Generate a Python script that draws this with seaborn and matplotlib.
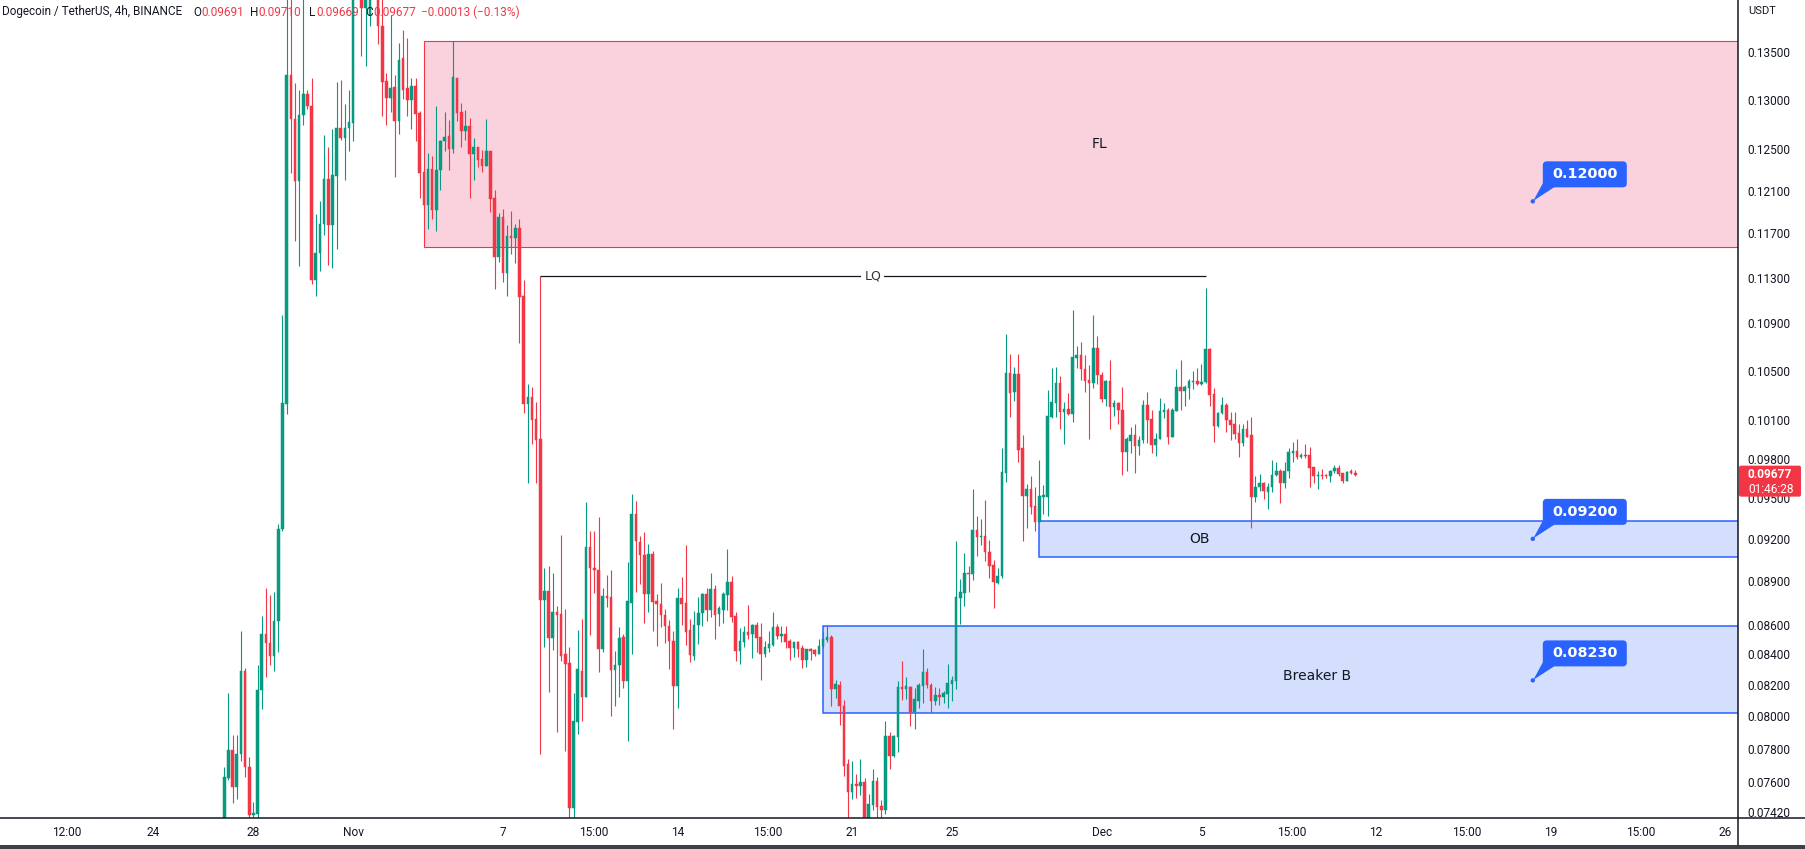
import numpy as np
import pandas as pd
import matplotlib
matplotlib.use("Agg")
import matplotlib.pyplot as plt
import matplotlib.dates as mdates
import seaborn as sns
from matplotlib.patches import Rectangle, FancyBboxPatch, Polygon
from matplotlib.lines import Line2D
from matplotlib.transforms import IdentityTransform
from matplotlib.ticker import NullLocator, NullFormatter

# ---------------- data (DOGE/USDT 4h) ----------------
start_time = "2022-10-26 20:00"

opens = [
    0.0735, 0.0762, 0.07792, 0.0757, 0.07768, 0.0829, 0.07689, 0.07405, 0.0741, 0.08167,
    0.08538, 0.08478, 0.08388, 0.08626, 0.0927, 0.10228, 0.13251, 0.12807, 0.12191, 0.12848,
    0.13058, 0.12937, 0.11276, 0.11521, 0.11786, 0.12216, 0.11777, 0.12246, 0.12717, 0.12614,
    0.12717, 0.12765, 0.145, 0.15, 0.13976, 0.13892, 0.143, 0.147, 0.13778, 0.13195,
    0.13016, 0.1313, 0.12786, 0.1343, 0.13125, 0.12994, 0.1314, 0.12869, 0.12281, 0.1197,
    0.12307, 0.11917, 0.12296, 0.12587, 0.12635, 0.12505, 0.13223, 0.12873, 0.12679, 0.12735,
    0.12456, 0.12529, 0.12404, 0.12343, 0.12485, 0.12036, 0.1149, 0.11851, 0.11338, 0.11673,
    0.11662, 0.11752, 0.11135, 0.10232, 0.10288, 0.10113, 0.0995, 0.0877, 0.0883, 0.0851,
    0.08685, 0.08671, 0.084, 0.08344, 0.07444, 0.07966, 0.08292, 0.08125, 0.09141, 0.08988,
    0.0898, 0.08437, 0.08796, 0.08787, 0.08297, 0.08331, 0.08515, 0.08223, 0.08745, 0.09383,
    0.09177, 0.09086, 0.0881, 0.09094, 0.08759, 0.08737, 0.08662, 0.08588, 0.08492, 0.08196,
    0.0878, 0.08746, 0.08563, 0.0839, 0.086, 0.08676, 0.08808, 0.08698, 0.08844, 0.08671,
    0.087, 0.08801, 0.08894, 0.08658, 0.08422, 0.08482, 0.0855, 0.08536, 0.086, 0.08515,
    0.08404, 0.08444, 0.08462, 0.08583, 0.08525, 0.08536, 0.08489, 0.08444, 0.0848, 0.08442,
    0.0836, 0.08435, 0.08428, 0.08404, 0.08455, 0.08498, 0.08516, 0.08176, 0.082, 0.08067,
    0.07706, 0.0754, 0.07586, 0.07576, 0.07596, 0.073, 0.07462, 0.07603, 0.07454, 0.07433,
    0.07878, 0.07756, 0.07874, 0.08186, 0.08176, 0.08187, 0.08027, 0.08099, 0.08193, 0.08285,
    0.08203, 0.08097, 0.08133, 0.08122, 0.08144, 0.08205, 0.08228, 0.08781, 0.08818, 0.08957,
    0.08949, 0.09265, 0.09216, 0.09224, 0.09107, 0.09013, 0.08887, 0.08934, 0.09693, 0.10484,
    0.10331, 0.10475, 0.09883, 0.09517, 0.09567, 0.09439, 0.09326, 0.09506, 0.09506, 0.10129,
    0.1024, 0.10403, 0.1017, 0.1019, 0.10151, 0.1061, 0.10634, 0.10518, 0.10427, 0.10398,
    0.10692, 0.10469, 0.10274, 0.10418, 0.10203, 0.1024, 0.10184, 0.09852, 0.0994, 0.09985,
    0.09894, 0.09945, 0.10222, 0.10112, 0.09906, 0.09953, 0.1017, 0.10183, 0.09971, 0.10177,
    0.10366, 0.10333, 0.10361, 0.10407, 0.10421, 0.10396, 0.10407, 0.10683, 0.10311, 0.10056,
    0.10157, 0.10222, 0.10104, 0.10072, 0.10003, 0.09924, 0.10032, 0.09985, 0.0951, 0.09582,
    0.09612, 0.09548, 0.09582, 0.09676, 0.09706, 0.09617, 0.09701, 0.09845, 0.09858, 0.09815,
    0.09828, 0.09828, 0.09736, 0.09663, 0.09676, 0.09676, 0.09663, 0.09701, 0.09727, 0.09689,
    0.09632, 0.09701, 0.09691,
]
highs = [
    0.07689, 0.0815, 0.07881, 0.07881, 0.08556, 0.08313, 0.07751, 0.07476, 0.08331, 0.08661,
    0.08851, 0.08804, 0.08822, 0.09308, 0.10969, 0.143, 0.1425, 0.13168, 0.13098, 0.142,
    0.131, 0.1322, 0.11883, 0.12005, 0.1264, 0.12524, 0.12701, 0.1318, 0.13207, 0.12953,
    0.13098, 0.148, 0.157, 0.153, 0.145, 0.146, 0.15, 0.148, 0.142, 0.13278,
    0.13892, 0.13251, 0.13597, 0.13731, 0.13647, 0.13222, 0.13222, 0.1288, 0.1232, 0.12468,
    0.12432, 0.12937, 0.12597, 0.12875, 0.12789, 0.13616, 0.13223, 0.12963, 0.12896, 0.12813,
    0.12612, 0.12529, 0.12495, 0.12803, 0.12485, 0.12107, 0.11888, 0.11926, 0.11779, 0.11911,
    0.11789, 0.1183, 0.11281, 0.10392, 0.10372, 0.10245, 0.11313, 0.08988, 0.09008, 0.08957,
    0.08723, 0.0923, 0.08709, 0.08448, 0.08151, 0.08566, 0.08635, 0.09469, 0.0926, 0.0926,
    0.09361, 0.08851, 0.0894, 0.0898, 0.08421, 0.08584, 0.08538, 0.09031, 0.0953, 0.0948,
    0.09221, 0.09251, 0.09162, 0.09112, 0.08807, 0.08885, 0.08709, 0.0863, 0.08553, 0.08853,
    0.08928, 0.09155, 0.08638, 0.08692, 0.08787, 0.08815, 0.08853, 0.08957, 0.08875, 0.08727,
    0.08822, 0.09126, 0.08936, 0.08685, 0.08577, 0.08592, 0.08732, 0.08602, 0.08615, 0.08611,
    0.08487, 0.08556, 0.08685, 0.08602, 0.08589, 0.08591, 0.085, 0.08484, 0.08489, 0.08462,
    0.08437, 0.08444, 0.08437, 0.08502, 0.08552, 0.08589, 0.08532, 0.08233, 0.08226, 0.08103,
    0.07736, 0.07724, 0.07646, 0.07736, 0.07619, 0.07525, 0.07676, 0.07627, 0.07489, 0.07972,
    0.07903, 0.07884, 0.08226, 0.08356, 0.08252, 0.08193, 0.08182, 0.08216, 0.08438, 0.08312,
    0.08216, 0.08187, 0.0818, 0.08164, 0.08338, 0.08258, 0.09185, 0.08912, 0.09097, 0.09006,
    0.09567, 0.09367, 0.09347, 0.09485, 0.09194, 0.09048, 0.08991, 0.09885, 0.10811, 0.10642,
    0.10533, 0.10642, 0.09985, 0.09608, 0.09669, 0.09584, 0.09789, 0.09599, 0.10345, 0.10527,
    0.10533, 0.10461, 0.10245, 0.10319, 0.11019, 0.1071, 0.10743, 0.10636, 0.1055, 0.10977,
    0.10797, 0.10489, 0.10427, 0.1059, 0.10262, 0.10245, 0.10369, 0.09968, 0.10049, 0.10071,
    0.09976, 0.10262, 0.10328, 0.10183, 0.09998, 0.1028, 0.10241, 0.10196, 0.10196, 0.10515,
    0.10592, 0.10385, 0.10435, 0.10503, 0.10525, 0.10557, 0.11212, 0.1069, 0.10358, 0.1017,
    0.10289, 0.10236, 0.1017, 0.1017, 0.10072, 0.10069, 0.10104, 0.1013, 0.09663, 0.09683,
    0.0962, 0.09612, 0.0979, 0.0977, 0.09719, 0.0977, 0.09879, 0.09925, 0.09951, 0.09841,
    0.0991, 0.09889, 0.09739, 0.09701, 0.09721, 0.09681, 0.09713, 0.09752, 0.09752, 0.09693,
    0.09701, 0.09719, 0.0971,
]
lows = [
    0.0728, 0.0761, 0.0747, 0.07494, 0.07721, 0.07626, 0.0738, 0.0736, 0.0737, 0.08044,
    0.08252, 0.08331, 0.0829, 0.08415, 0.0926, 0.10154, 0.12266, 0.11627, 0.11401, 0.12743,
    0.129, 0.11243, 0.1114, 0.11359, 0.11689, 0.11414, 0.1139, 0.11559, 0.1259, 0.12206,
    0.12482, 0.12587, 0.143, 0.13452, 0.13349, 0.13778, 0.1415, 0.1358, 0.12838, 0.12743,
    0.12875, 0.12231, 0.12656, 0.13006, 0.12838, 0.12701, 0.12587, 0.1203, 0.1194, 0.11738,
    0.11833, 0.11723, 0.12105, 0.12482, 0.12302, 0.12463, 0.12779, 0.12529, 0.12595, 0.12028,
    0.12205, 0.12333, 0.12276, 0.1234, 0.119, 0.11201, 0.11436, 0.11266, 0.11139, 0.11512,
    0.11429, 0.10737, 0.10161, 0.09617, 0.0991, 0.09617, 0.07768, 0.08448, 0.08156, 0.08429,
    0.07903, 0.08357, 0.07785, 0.0736, 0.0736, 0.0789, 0.07971, 0.08125, 0.08531, 0.08816,
    0.08285, 0.08416, 0.08717, 0.08004, 0.08068, 0.08125, 0.08178, 0.07849, 0.08402, 0.08821,
    0.08879, 0.08613, 0.08685, 0.08553, 0.08456, 0.0858, 0.08478, 0.08304, 0.0792, 0.08055,
    0.086, 0.08462, 0.08352, 0.08363, 0.08471, 0.08592, 0.08626, 0.08653, 0.08505, 0.08592,
    0.08612, 0.08698, 0.08619, 0.08359, 0.0834, 0.08448, 0.08502, 0.08378, 0.08415, 0.08235,
    0.08384, 0.08417, 0.08457, 0.08502, 0.08484, 0.08444, 0.08365, 0.08384, 0.08384, 0.08308,
    0.08314, 0.08365, 0.08391, 0.084, 0.08444, 0.08484, 0.08067, 0.08118, 0.07947, 0.07635,
    0.0736, 0.07499, 0.07503, 0.07519, 0.0725, 0.072, 0.07431, 0.0735, 0.0736, 0.0741,
    0.07674, 0.0775, 0.0778, 0.08103, 0.08111, 0.0794, 0.07918, 0.08055, 0.08086, 0.08182,
    0.0802, 0.0807, 0.08073, 0.08086, 0.08055, 0.08099, 0.08177, 0.08606, 0.08729, 0.08825,
    0.08904, 0.0908, 0.09153, 0.09043, 0.08924, 0.08715, 0.0888, 0.08924, 0.09624, 0.10123,
    0.10253, 0.0977, 0.09185, 0.0928, 0.09383, 0.0926, 0.0932, 0.09383, 0.0937, 0.10116,
    0.10123, 0.10028, 0.09917, 0.10142, 0.10088, 0.10527, 0.10427, 0.10331, 0.09949, 0.10361,
    0.1039, 0.10245, 0.10218, 0.10028, 0.10134, 0.10073, 0.09677, 0.09701, 0.09845, 0.09693,
    0.09831, 0.09919, 0.09919, 0.09845, 0.09823, 0.0995, 0.10117, 0.09913, 0.0997, 0.10177,
    0.10183, 0.10215, 0.1027, 0.10353, 0.10388, 0.10388, 0.10402, 0.10215, 0.09932, 0.10043,
    0.1015, 0.1001, 0.09945, 0.09951, 0.09815, 0.09898, 0.09966, 0.09278, 0.09473, 0.09556,
    0.09492, 0.09419, 0.09548, 0.0967, 0.09465, 0.09575, 0.0965, 0.0977, 0.09795, 0.09803,
    0.09803, 0.0958, 0.09612, 0.09572, 0.09642, 0.0965, 0.0962, 0.09689, 0.09663, 0.09612,
    0.09632, 0.09683, 0.09669,
]
closes = [
    0.07626, 0.07792, 0.0757, 0.07768, 0.0829, 0.07689, 0.074, 0.07417, 0.08167, 0.08538,
    0.08478, 0.08388, 0.08626, 0.0927, 0.10237, 0.13251, 0.12807, 0.12191, 0.12848, 0.13058,
    0.12932, 0.11276, 0.11521, 0.11786, 0.12216, 0.11777, 0.12256, 0.12717, 0.12614, 0.12717,
    0.12775, 0.145, 0.15, 0.13976, 0.142, 0.143, 0.147, 0.13778, 0.13185, 0.13016,
    0.13125, 0.12786, 0.13414, 0.13103, 0.12994, 0.1314, 0.12859, 0.12271, 0.1197, 0.12307,
    0.11917, 0.12296, 0.12587, 0.12627, 0.12505, 0.13233, 0.12863, 0.12679, 0.12735, 0.12456,
    0.12529, 0.12398, 0.12343, 0.12485, 0.12022, 0.1149, 0.11851, 0.11338, 0.11673, 0.11662,
    0.11752, 0.11128, 0.10232, 0.10288, 0.10104, 0.09947, 0.0877, 0.0883, 0.0851, 0.08685,
    0.08668, 0.08389, 0.08336, 0.07444, 0.07971, 0.08302, 0.08125, 0.09141, 0.08988, 0.0898,
    0.08437, 0.08796, 0.08784, 0.08297, 0.08331, 0.08507, 0.08223, 0.08759, 0.09383, 0.09183,
    0.09086, 0.0881, 0.09094, 0.08753, 0.08737, 0.08662, 0.08588, 0.08492, 0.08196, 0.0878,
    0.08739, 0.0855, 0.08396, 0.086, 0.08676, 0.08808, 0.08698, 0.08844, 0.08665, 0.08712,
    0.08808, 0.08894, 0.08653, 0.08422, 0.08489, 0.08548, 0.08532, 0.086, 0.08511, 0.08404,
    0.08448, 0.08469, 0.08583, 0.08525, 0.08536, 0.08484, 0.08444, 0.0848, 0.08437, 0.0836,
    0.08435, 0.08423, 0.08404, 0.08455, 0.08502, 0.08516, 0.08176, 0.08207, 0.08067, 0.07695,
    0.0754, 0.07586, 0.07576, 0.07596, 0.073, 0.07466, 0.07603, 0.0745, 0.07433, 0.07878,
    0.07756, 0.0788, 0.08186, 0.08176, 0.08193, 0.08027, 0.08108, 0.08198, 0.08285, 0.082,
    0.08097, 0.08133, 0.08122, 0.08148, 0.08212, 0.08233, 0.08789, 0.08825, 0.08957, 0.08949,
    0.09265, 0.09216, 0.09224, 0.09102, 0.09008, 0.08892, 0.08934, 0.09698, 0.10484, 0.10322,
    0.10475, 0.09868, 0.09517, 0.09567, 0.09434, 0.09326, 0.09515, 0.09522, 0.10134, 0.10245,
    0.10403, 0.1017, 0.1019, 0.10151, 0.10616, 0.10634, 0.10513, 0.10418, 0.10398, 0.10692,
    0.10463, 0.10274, 0.10418, 0.10203, 0.1024, 0.10179, 0.09852, 0.09951, 0.09985, 0.09894,
    0.09943, 0.10222, 0.10104, 0.09906, 0.09953, 0.10175, 0.10183, 0.09971, 0.10183, 0.10366,
    0.10333, 0.10366, 0.10415, 0.10421, 0.10396, 0.10413, 0.10683, 0.10303, 0.10056, 0.10162,
    0.10222, 0.10099, 0.10064, 0.09993, 0.09924, 0.10032, 0.09971, 0.0951, 0.09587, 0.09612,
    0.09556, 0.09582, 0.09676, 0.09706, 0.09617, 0.09706, 0.09853, 0.09858, 0.09815, 0.09828,
    0.0982, 0.09731, 0.09663, 0.09676, 0.09663, 0.09663, 0.09706, 0.09727, 0.09683, 0.09632,
    0.09696, 0.09693, 0.09677,
]

y_ticks = [0.135, 0.130, 0.125, 0.121, 0.117, 0.113, 0.109, 0.105, 0.101, 0.098,
           0.095, 0.092, 0.089, 0.086, 0.084, 0.082, 0.080, 0.078, 0.076, 0.0742]
x_tick_times = ["2022-10-20 12:00", "2022-10-24 00:00", "2022-10-28 00:00", "2022-11-01 00:00",
                "2022-11-07 00:00", "2022-11-10 15:00", "2022-11-14 00:00", "2022-11-17 15:00",
                "2022-11-21 00:00", "2022-11-25 00:00", "2022-12-01 00:00", "2022-12-05 00:00",
                "2022-12-08 15:00", "2022-12-12 00:00", "2022-12-15 15:00", "2022-12-19 00:00",
                "2022-12-22 15:00", "2022-12-26 00:00"]
x_tick_labels = ["12:00", "24", "28", "Nov", "7", "15:00", "14", "15:00", "21", "25",
                 "Dec", "5", "15:00", "12", "15:00", "19", "15:00", "26"]

# zones: (label, first candle index, bottom price, top price)
zone_labels = ["FL", "OB", "Breaker B"]
zone_start = [48, 196, 144]
zone_bottom = [0.1158, 0.09067, 0.0802]
zone_top = [0.13616, 0.09329, 0.08588]
lq_price = 0.11313
lq_start, lq_end = 76, 236
callout_prices = [0.12000, 0.09200, 0.08230]
callout_labels = ["0.12000", "0.09200", "0.08230"]

assert len(opens) == len(highs) == len(lows) == len(closes)

# ---------------- style ----------------
sns.set_style("white")
plt.rcParams['font.family'] = ['Roboto', 'DejaVu Sans']
GREEN = "#089981"
RED = "#f23645"
BLUE = "#2962ff"
TXT = "#131722"

W, H = 1806, 849
fig = plt.figure(figsize=(W / 100, H / 100), dpi=100)
fig.patch.set_facecolor("white")
ax = fig.add_axes([0, 31 / H, 1738 / W, 818 / H])
ax.set_facecolor("white")

df = pd.DataFrame({"time": pd.date_range(start_time, periods=len(opens), freq="4h"),
                   "open": opens, "high": highs, "low": lows, "close": closes})
df["x"] = mdates.date2num(df["time"].values)
df["up"] = df["close"] >= df["open"]
colors = np.where(df["up"], GREEN, RED)
step = 1.0 / 6.0
t0 = df["x"].iloc[0]

ax.set_yscale("log")

# zones
for lab, ks, yb, yt in zip(zone_labels, zone_start, zone_bottom, zone_top):
    if lab == "FL":
        fc, ec, lw = "#fad2de", RED, 0.8
    else:
        fc, ec, lw = "#d4dffd", BLUE, 1.1
    ax.add_patch(Rectangle((t0 + ks * step, yb), 400 * step, yt - yb,
                           facecolor=fc, edgecolor=ec, linewidth=lw, zorder=1))

# candles
ax.vlines(df["x"], df["low"], df["high"], colors=colors, linewidth=0.8, zorder=3)
body_lo = np.minimum(df["open"], df["close"])
body_h = np.abs(df["close"] - df["open"])
ax.bar(df["x"], body_h, bottom=body_lo, width=0.62 * step, color=colors,
       edgecolor=colors, linewidth=0.35, zorder=4)

# zone labels
label_k = {"FL": 210.6, "OB": 234.6, "Breaker B": 262.7}
label_p = {"FL": 0.12557, "OB": 0.0920, "Breaker B": 0.0826}
for lab in zone_labels:
    ax.text(t0 + label_k[lab] * step, label_p[lab], lab, ha="center", va="center",
            fontsize=10, color=TXT, family=["DejaVu Sans"], zorder=5)

# LQ line
ax.hlines(lq_price, t0 + lq_start * step, t0 + lq_end * step, color=TXT,
          linewidth=0.9, zorder=5)
ax.text(t0 + (lq_start + lq_end) / 2 * step, lq_price, "LQ", ha="center", va="center",
        fontsize=9, color="#333333", family=["DejaVu Sans"], zorder=6,
        bbox=dict(boxstyle="square,pad=0.25", fc="white", ec="none"))

# limits
ax.set_xlim(t0 - 53.94 * step, t0 + 364.05 * step)
ax.set_ylim(0.07385, 0.14061)

# callout dots (seaborn)
x_dot = t0 + 314.7 * step
sns.scatterplot(x=[x_dot] * len(callout_prices), y=callout_prices, ax=ax,
                color=BLUE, s=10, edgecolor="none", zorder=7, legend=False)
ax.set_xlim(t0 - 53.94 * step, t0 + 364.05 * step)
ax.set_ylim(0.07385, 0.14061)
ax.set_xlabel("")
ax.set_ylabel("")

# axes ticks
ax.yaxis.tick_right()
ax.set_yticks(y_ticks)
ax.set_yticklabels([f"{v:.5f}" for v in y_ticks])
ax.yaxis.set_minor_locator(NullLocator())
ax.yaxis.set_minor_formatter(NullFormatter())
ax.tick_params(axis="y", length=0, pad=6.5, labelsize=8.6, labelcolor=TXT)
ax.set_xticks(mdates.date2num(pd.to_datetime(x_tick_times, format="%Y-%m-%d %H:%M").values))
ax.set_xticklabels(x_tick_labels)
ax.tick_params(axis="x", length=0, pad=5.5, labelsize=8.6, labelcolor=TXT)
for s in ax.spines.values():
    s.set_visible(False)
ax.grid(False)

# frame lines
fig.add_artist(Line2D([0, 1], [31 / H, 31 / H], transform=fig.transFigure,
                      color=TXT, linewidth=1.1))
fig.add_artist(Line2D([1738 / W, 1738 / W], [4 / H, 1], transform=fig.transFigure,
                      color=TXT, linewidth=1.1))
fig.add_artist(Rectangle((0, 0), 1, 4 / H, transform=fig.transFigure,
                         facecolor="#3d4049", edgecolor="none"))

idt = IdentityTransform()

# callout boxes
for price, lab in zip(callout_prices, callout_labels):
    px, py = ax.transData.transform((x_dot, price))
    left, bottom, bw, bh = px + 10, py + 14, 84, 26
    fig.add_artist(Polygon([(px + 0.5, py + 0.5), (px + 10, py + 18), (px + 22, py + 14.5)],
                           closed=True, transform=idt, facecolor=BLUE, edgecolor="none"))
    fig.add_artist(FancyBboxPatch((left, bottom), bw, bh,
                                  boxstyle="round,pad=0,rounding_size=4",
                                  transform=idt, facecolor=BLUE, edgecolor="none"))
    fig.text(left + bw / 2, bottom + bh / 2, lab, transform=idt, ha="center", va="center",
             color="white", fontsize=10.4, fontweight="bold", family=["DejaVu Sans"])

# last price label
last_close = closes[-1]
px, py = ax.transData.transform((t0, last_close))
fig.add_artist(FancyBboxPatch((1739, py - 22), 62, 31,
                              boxstyle="round,pad=0,rounding_size=2",
                              transform=idt, facecolor=RED, edgecolor="none", zorder=10))
fig.text(1748, py, f"{last_close:.5f}", transform=idt, ha="left", va="center",
         color="white", fontsize=8.6, fontweight="bold", zorder=11)
fig.text(1748, py - 15, "01:46:28", transform=idt, ha="left", va="center",
         color="white", fontsize=8.6, zorder=11)

# header legend
hy = H - 12
parts = [(2, "Dogecoin / TetherUS, 4h, BINANCE", TXT),
         (193, "O", TXT), (201, f"{opens[-1]:.5f}", RED),
         (250, "H", TXT), (258, f"{highs[-1]:.5f}", RED),
         (309, "L", TXT), (316, f"{lows[-1]:.5f}", RED),
         (365, "C", TXT), (373, f"{closes[-1]:.5f}", RED),
         (421, "\u22120.00013 (\u22120.13%)", RED)]
for xx, s, c in parts:
    fig.text(xx, hy, s, transform=idt, ha="left", va="center", color=c, fontsize=8.5)
fig.text(1748, H - 11, "USDT", transform=idt, ha="left", va="center", color=TXT, fontsize=8)

fig.savefig("out.png", dpi=100, facecolor="white")
